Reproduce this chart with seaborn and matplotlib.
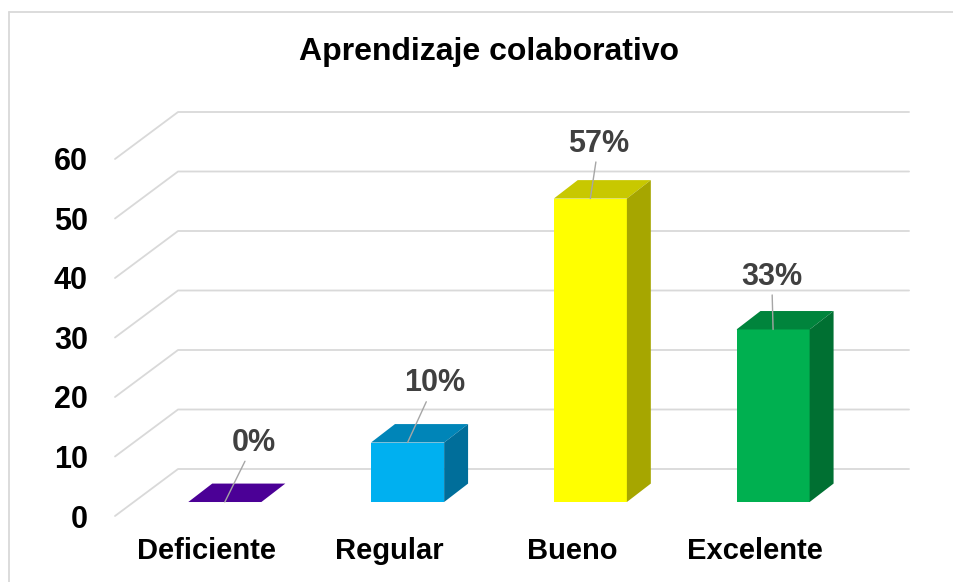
import matplotlib
matplotlib.use("Agg")
import matplotlib.pyplot as plt
from matplotlib.patches import Polygon
from matplotlib.lines import Line2D
import seaborn as sns

categories = ["Deficiente", "Regular", "Bueno", "Excelente"]
values = [0, 10, 51, 29]
pct_labels = ["0%", "10%", "57%", "33%"]
yticks = [0, 10, 20, 30, 40, 50, 60]

front_colors = ["#5A1AA8", "#00B0F0", "#FFFF00", "#00B050"]
top_colors = ["#4B0096", "#0085B8", "#C8C800", "#00843C"]
side_colors = ["#3D007A", "#006E9A", "#A6A600", "#007032"]

# label nudges (points) relative to the front top edge of each bar
label_offsets = [(21, 42.5), (19.5, 42.5), (6, 39.5), (-1, 38)]

# pseudo 3d geometry in data units
WALL_DX, WALL_DY = 0.345, 7.9      # floor depth
SHIFT_X, SHIFT_Y = 0.101, 2.35     # bars sit a bit behind the front plane
BAR_DX, BAR_DY = 0.131, 3.1        # bar depth

sns.set_style("white")
plt.rcParams["font.family"] = ["Liberation Sans", "DejaVu Sans"]
plt.rcParams["text.color"] = "black"
plt.rcParams["xtick.color"] = "black"
plt.rcParams["ytick.color"] = "black"

fig = plt.figure(figsize=(9.54, 5.82), dpi=100)
ax = fig.add_axes([115 / 954, 66 / 582, 731 / 954, 357 / 582])

sns.barplot(x=categories, y=values, hue=categories, palette=front_colors,
            width=0.4, saturation=1, legend=False, linewidth=0, ax=ax, zorder=3)

ax.set_xlim(-0.5, 3.5)
ax.set_ylim(0, 60)

# gridlines: front diagonal + back wall
grid_c = "#D9D9D9"
for v in yticks:
    ax.add_line(Line2D([-0.5, -0.5 + WALL_DX, 3.5 + WALL_DX],
                       [v, v + WALL_DY, v + WALL_DY],
                       color=grid_c, lw=1.3, zorder=0, clip_on=False))

i = 0
for cont in ax.containers:
    for bar in cont:
        bar.set_x(bar.get_x() + SHIFT_X)
        bar.set_y(bar.get_y() + SHIFT_Y)
        bar.set_clip_on(False)
        x0 = bar.get_x()
        x1 = x0 + bar.get_width()
        y0 = bar.get_y()
        y1 = y0 + bar.get_height()
        top = Polygon([(x0, y1), (x1, y1), (x1 + BAR_DX, y1 + BAR_DY), (x0 + BAR_DX, y1 + BAR_DY)],
                      closed=True, facecolor=top_colors[i], edgecolor="none", zorder=4, clip_on=False)
        ax.add_patch(top)
        if bar.get_height() > 0:
            side = Polygon([(x1, y0), (x1 + BAR_DX, y0 + BAR_DY), (x1 + BAR_DX, y1 + BAR_DY), (x1, y1)],
                           closed=True, facecolor=side_colors[i], edgecolor="none", zorder=4, clip_on=False)
            ax.add_patch(side)
        ax.annotate(pct_labels[i], xy=((x0 + x1) / 2, y1), xytext=label_offsets[i],
                    textcoords="offset points", ha="center", va="center",
                    fontsize=22, fontweight="bold", color="#404040", zorder=6,
                    arrowprops=dict(arrowstyle="-", color="#A6A6A6", lw=1.0,
                                    shrinkA=0, shrinkB=0), annotation_clip=False)
        i += 1

ax.set_yticks(yticks)
ax.set_yticklabels([str(t) for t in yticks], fontsize=22, fontweight="bold", color="black")
ax.set_xticks(range(len(categories)))
ax.set_xticklabels(categories, fontsize=21, fontweight="bold", color="black")
ax.tick_params(axis="y", length=0, pad=19.5)
ax.tick_params(axis="x", length=0, pad=15)
ax.set_xlabel("")
ax.set_ylabel("")
for s in ax.spines.values():
    s.set_visible(False)
ax.patch.set_alpha(0)

fig.text(489 / 954, 1 - 52 / 582, "Aprendizaje colaborativo", ha="center", va="center",
         fontsize=23, fontweight="bold", color="black")

# chart area border (partly cropped in the original)
fig.add_artist(Line2D([9 / 954, 9 / 954], [0, 1 - 12 / 582], color="#D9D9D9", lw=1.3))
fig.add_artist(Line2D([9 / 954, 1], [1 - 12 / 582, 1 - 12 / 582], color="#D9D9D9", lw=1.3))

fig.savefig("out.png", dpi=100)
